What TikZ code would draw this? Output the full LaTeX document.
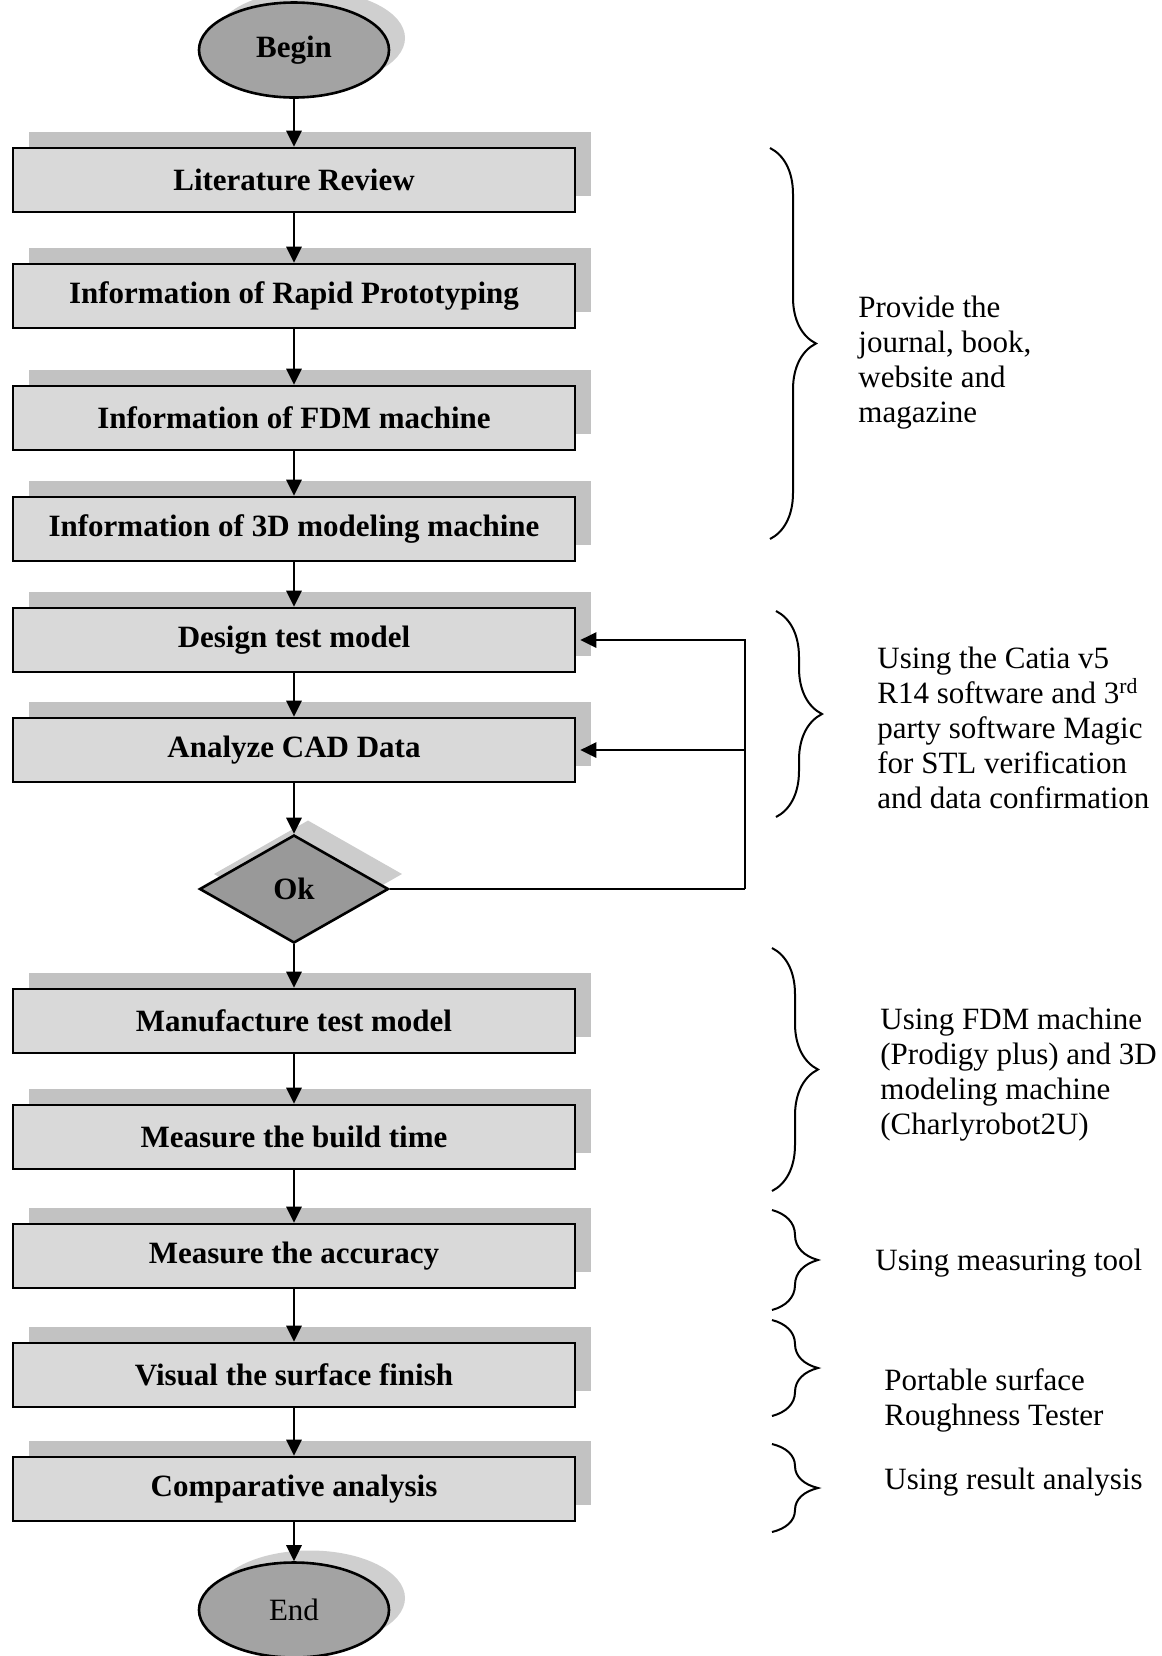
\documentclass[tikz,border=0pt]{standalone}
\usepackage{fontspec}
\setmainfont{Liberation Serif}
\usetikzlibrary{shapes.geometric, shadows, arrows.meta, decorations.pathreplacing}

\begin{document}
\begin{tikzpicture}[x=0.5pt, y=-0.5pt,
		every node/.style={font=\fontsize{15.5}{17.5}\selectfont},
		process/.style={rectangle, draw=black, line width=1.3pt, fill=gray!30,
			minimum width=281pt, minimum height=32pt, inner sep=0pt,
			font=\fontsize{15.5}{17.5}\selectfont\bfseries,
			drop shadow={shadow xshift=8pt, shadow yshift=8pt, fill=gray!48, opacity=1}},
		terminal/.style={ellipse, draw=black, line width=1.3pt, fill=gray!72,
			minimum width=95pt, minimum height=47.5pt, inner sep=0pt,
			drop shadow={shadow xshift=8pt, shadow yshift=6pt, fill=gray!38, opacity=1}},
		decision/.style={diamond, draw=black, line width=1.3pt, fill=gray!80,
			minimum width=94.5pt, minimum height=54pt, inner sep=0pt,
			font=\fontsize{15.5}{17.5}\selectfont\bfseries,
			drop shadow={shadow xshift=7pt, shadow yshift=7.5pt, fill=gray!40, opacity=1}},
		flow/.style={-{Triangle[length=8pt, width=7.5pt]}, line width=1.4pt},
		line/.style={line width=1.3pt},
		note brace/.style={decorate, decoration={brace, amplitude=23pt}, line width=1pt},
		note/.style={anchor=west, align=left, inner sep=0pt}
	]
		%page
		\path[use as bounding box, fill=white] (0,0) rectangle (1162,1656);

		%main column
		\node[terminal, font=\fontsize{15.5}{17.5}\selectfont\bfseries] (begin) at (294,50) {Begin};
		\node[process] (lit) at (294,180) {Literature Review};
		\node[process] (rp) at (294,296) {Information of Rapid Prototyping};
		\node[process] (fdm) at (294,418) {Information of FDM machine};
		\node[process] (cnc) at (294,529) {Information of 3D modeling machine};
		\node[process] (design) at (294,640) {Design test model};
		\node[process] (analyze) at (294,750) {Analyze CAD Data};
		\node[decision] (ok) at (294,889) {Ok};
		\node[process] (manu) at (294,1021) {Manufacture test model};
		\node[process] (build) at (294,1137) {Measure the build time};
		\node[process] (accuracy) at (294,1256) {Measure the accuracy};
		\node[process] (surface) at (294,1375) {Visual the surface finish};
		\node[process] (compare) at (294,1489) {Comparative analysis};
		\node[terminal] (end) at (294,1610) {End};

		\foreach \a/\b in {begin/lit, lit/rp, rp/fdm, fdm/cnc, cnc/design, design/analyze,
			analyze/ok, ok/manu, manu/build, build/accuracy, accuracy/surface,
			surface/compare, compare/end}
			\draw[flow] (\a) -- (\b);

		%loop back from the decision
		\coordinate (loop) at (745,889);
		\draw[line] (ok.east) -- (loop);
		\draw[flow, shorten >=2pt] (loop) |- (design.east);
		\draw[flow, shorten >=2pt] (loop |- analyze.east) -- (analyze.east);

		%braces and notes
		\draw[note brace] (770,148) -- (770,539);
		\node[note] (n1) at (858,363) {Provide the\\journal, book,\\website and\\magazine};

		\draw[note brace] (776,611) -- (776,817);
		\node[note] (n2) at (877,728) {Using the Catia v5\\R14 software and 3\textsuperscript{rd}\\party software Magic\\for STL verification\\and data confirmation};

		\draw[note brace] (772,948) -- (772,1191);
		\node[note] (n3) at (880,1075) {Using FDM machine\\(Prodigy plus) and 3D\\modeling machine\\(Charlyrobot2U)};

		\draw[note brace] (772,1210) -- (772,1310);
		\node[note] (n4) at (875,1263) {Using measuring tool};

		\draw[note brace] (772,1320) -- (772,1416);
		\node[note] (n5) at (884,1400) {Portable surface\\Roughness Tester};

		\draw[note brace] (772,1444) -- (772,1532);
		\node[note] (n6) at (884,1482) {Using result analysis};
	\end{tikzpicture}
\end{document}
